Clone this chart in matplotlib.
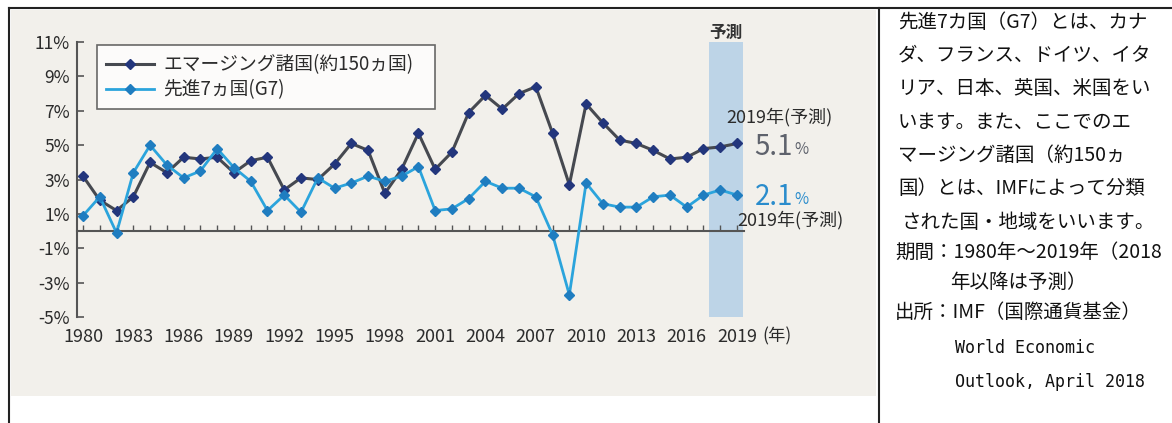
import matplotlib
matplotlib.use("Agg")
import matplotlib.pyplot as plt
from matplotlib.lines import Line2D
from matplotlib.patches import Rectangle

plt.rcParams['font.family'] = ['Noto Sans CJK JP', 'DejaVu Sans']

W, H = 1172, 423

# GDP growth (%)
years = list(range(1980, 2020))
emerging = [3.2, 1.8, 1.2, 2.0, 4.0, 3.4, 4.3, 4.2, 4.3, 3.4,
            4.1, 4.3, 2.4, 3.1, 3.0, 3.9, 5.1, 4.7, 2.2, 3.6,
            5.7, 3.6, 4.6, 6.9, 7.9, 7.1, 8.0, 8.4, 5.7, 2.7,
            7.4, 6.3, 5.3, 5.1, 4.7, 4.2, 4.3, 4.8, 4.9, 5.1]
g7 = [0.9, 2.0, -0.1, 3.4, 5.0, 3.85, 3.1, 3.5, 4.8, 3.7,
      2.9, 1.2, 2.1, 1.1, 3.1, 2.5, 2.8, 3.2, 2.9, 3.2,
      3.75, 1.2, 1.3, 1.9, 2.9, 2.5, 2.5, 2.0, -0.2, -3.7,
      2.8, 1.6, 1.4, 1.4, 2.0, 2.1, 1.4, 2.1, 2.4, 2.1]
series_labels = ["エマージング諸国(約150ヵ国)", "先進7ヵ国(G7)"]
ytick_vals = list(range(-5, 12, 2))
xtick_years = list(range(1980, 2020, 3))
forecast_span = (2017.35, 2019.35)

note_lines = [
    (898, 22, "先進7カ国（G7）とは、カナ", "cjk"),
    (898, 55, "ダ、フランス、ドイツ、イタ", "cjk"),
    (898, 88, "リア、日本、英国、米国をい", "cjk"),
    (898, 122, "います。また、ここでのエ", "cjk"),
    (898, 155, "マージング諸国（約150ヵ", "cjk"),
    (898, 188, "国）とは、IMFによって分類", "cjk"),
    (902, 222, "された国・地域をいいます。", "cjk"),
    (895, 252, "期間：1980年～2019年（2018", "cjk"),
    (950, 282, "年以降は予測）", "cjk"),
    (895, 312, "出所：IMF（国際通貨基金）", "cjk"),
    (955, 348, "World Economic", "mono"),
    (955, 382, "Outlook, April 2018", "mono"),
]


def fx(px):
    return px / W


def fy(py):
    return 1 - py / H


fig = plt.figure(figsize=(W / 100, H / 100), dpi=100)

# chart background and table frame
fig.add_artist(Rectangle((fx(11), fy(396)), fx(876) - fx(11), fy(10) - fy(396),
                         transform=fig.transFigure, color='#f2f0eb', lw=0, zorder=0))
for xs, ys in [([fx(9), 1], [fy(8), fy(8)]),
               ([fx(9.5), fx(9.5)], [fy(8), 0]),
               ([fx(878.5), fx(878.5)], [fy(8), 0])]:
    fig.add_artist(Line2D(xs, ys, transform=fig.transFigure, color='#222', lw=1.5))

x0, x1 = 1979.642, 2019.4
ppy = 16.77
ax_w = (x1 - x0) * ppy
ax = fig.add_axes([fx(77), fy(317.2), ax_w / W, fy(42) - fy(317.2)])
ax.set_facecolor('none')
ax.set_xlim(x0, x1)
ax.set_ylim(-5, 11)

ax.axvspan(*forecast_span, color='#bdd4e7', lw=0, zorder=0)

ax.plot(years, emerging, color='#464950', lw=2.2, marker='D', ms=5.2,
        mfc='#23367c', mec='#23367c', label=series_labels[0], zorder=3)
ax.plot(years, g7, color='#2ba4dc', lw=2.0, marker='D', ms=5.2,
        mfc='#1f7dc0', mec='#1f7dc0', label=series_labels[1], zorder=4)

for s in ['top', 'right']:
    ax.spines[s].set_visible(False)
ax.spines['left'].set_color('#555')
ax.spines['left'].set_linewidth(1.5)
ax.spines['bottom'].set_position(('data', 0))
ax.spines['bottom'].set_color('#555')
ax.spines['bottom'].set_linewidth(1.5)

ax.set_yticks(ytick_vals)
ax.set_yticklabels([f"{v}%" for v in ytick_vals])
ax.tick_params(axis='y', direction='in', length=5, width=1.2, color='#555',
               labelcolor='#2b2b2b', labelsize=12.5, pad=5)
ax.set_xticks(xtick_years)
ax.set_xticks(years, minor=True)
ax.tick_params(axis='x', which='both', direction='in', length=4, width=1.0,
               color='#555', labelcolor='#2b2b2b', labelsize=13, pad=70)
ax.text(2020.5, -6.1, "(年)", ha='left', va='center', fontsize=12.5,
        color='#2b2b2b', clip_on=False)

# legend box spans px 97..435 horizontally, 45..108 vertically
leg_box = ((97 - 77) / ax_w, (317.2 - 108) / 275.2,
           (435 - 97) / ax_w, (108 - 45) / 275.2)
leg = ax.legend(loc='upper left', bbox_to_anchor=leg_box, mode='expand',
                borderaxespad=0, fontsize=13.5, frameon=True, fancybox=False,
                numpoints=1, handlelength=2.56, handletextpad=0.48,
                borderpad=0.5, labelspacing=0.2)
leg.get_frame().set_edgecolor('#444')
leg.get_frame().set_linewidth(1.2)
leg.get_frame().set_facecolor('white')
for t in leg.get_texts():
    t.set_color('#2b2b2b')

# annotations
ax.text(2018.35, 11.52, "予測", ha='center', va='center', fontsize=12,
        fontweight='bold', color='#333', clip_on=False)
ax.text(2021.55, 6.63, "2019年(予測)", ha='center', va='center', fontsize=13,
        color='#2b2b2b', clip_on=False)
t51 = ax.text(2020.05, 4.9, f"{emerging[-1]:.1f}", ha='left', va='center',
              fontsize=20, color='#5e626c', clip_on=False)
ax.annotate("%", xy=(1, 0.12), xycoords=t51, xytext=(1, 0), textcoords='offset points',
            ha='left', va='bottom', fontsize=11, color='#5e626c')
t21 = ax.text(2020.05, 1.99, f"{g7[-1]:.1f}", ha='left', va='center',
              fontsize=20, color='#2a8ccc', clip_on=False)
ax.annotate("%", xy=(1, 0.12), xycoords=t21, xytext=(1, 0), textcoords='offset points',
            ha='left', va='bottom', fontsize=11, color='#2a8ccc')
ax.text(2022.16, 0.65, "2019年(予測)", ha='center', va='center', fontsize=13,
        color='#2b2b2b', clip_on=False)

# notes in the right cell
for px, py, txt, kind in note_lines:
    if kind == "mono":
        fig.text(fx(px), fy(py), txt, ha='left', va='center', fontsize=12,
                 family=['DejaVu Sans Mono'], color='#111')
    else:
        fig.text(fx(px), fy(py), txt, ha='left', va='center', fontsize=14,
                 color='#111')

fig.savefig("out.png", dpi=100)
